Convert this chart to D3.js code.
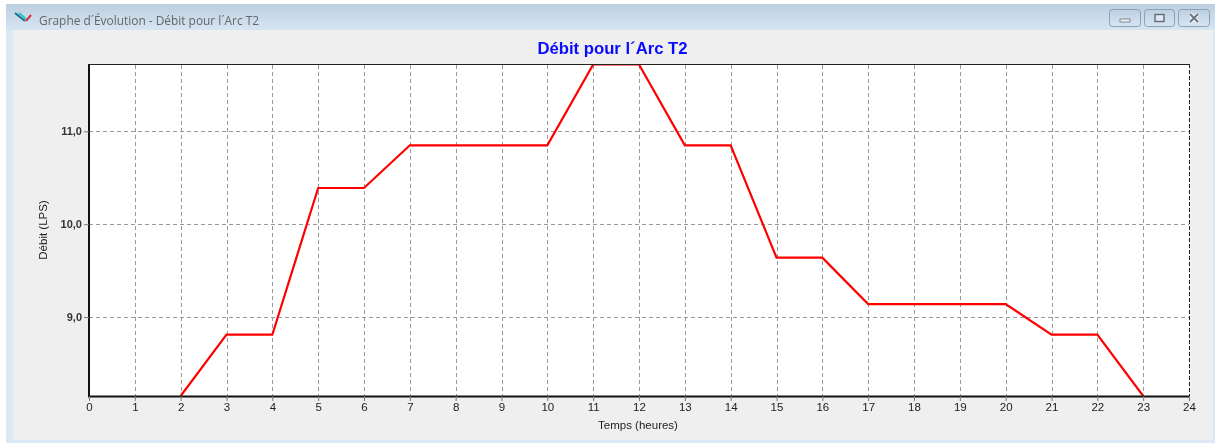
<!DOCTYPE html>
<html><head><meta charset="utf-8">
<script src="https://cdn.jsdelivr.net/npm/d3@7"></script>
<style>html,body{margin:0;padding:0;background:#fff;overflow:hidden}svg{display:block;filter:blur(0.35px)}text{font-family:"Liberation Sans",Arial,sans-serif}</style>
</head><body><svg id="c" width="1221" height="444"></svg>
<script>
const hours=[2,3,4,5,6,7,8,9,10,11,12,13,14,15,16,17,18,19,20,21,22,23];
const flow=[8.15,8.81,8.81,10.39,10.39,10.85,10.85,10.85,10.85,11.72,11.72,10.85,10.85,9.64,9.64,9.14,9.14,9.14,9.14,8.81,8.81,8.15];
const xTicks=d3.range(0,25);
const yTicks=[9,10,11];
const windowTitle="Graphe d\u00B4\u00C9volution - D\u00E9bit pour l\u00B4Arc T2";
const chartTitle="D\u00E9bit pour l\u00B4Arc T2";
const xLabel="Temps (heures)", yLabel="D\u00E9bit (LPS)";

const svg=d3.select("#c");
const defs=svg.append("defs");
const g=defs.append("linearGradient").attr("id","tb").attr("x1",0).attr("x2",0).attr("y1",0).attr("y2",1);
g.append("stop").attr("offset",0).attr("stop-color","#bccfe0");
g.append("stop").attr("offset",1).attr("stop-color","#d7e5f3");
defs.append("clipPath").attr("id","plot").append("rect").attr("x",89).attr("y",65).attr("width",1100).attr("height",331);

svg.append("rect").attr("x",6).attr("y",4).attr("width",1209).attr("height",439).attr("fill","#dce8f4");
svg.append("rect").attr("x",6).attr("y",4).attr("width",1209).attr("height",26).attr("fill","url(#tb)");
svg.append("rect").attr("x",13).attr("y",30).attr("width",1200).attr("height",410).attr("fill","#efefef");

const ic=svg.append("g").attr("fill","none").attr("stroke-width",2);
ic.append("path").attr("d","M15 13L25 21").attr("stroke","#1d6f86");
ic.append("path").attr("d","M19 13L26 19").attr("stroke","#29c4d6");
ic.append("path").attr("d","M26 21L31 15").attr("stroke","#d8323a");
svg.append("text").attr("x",39).attr("y",25).attr("font-size",11.9).attr("fill","#666")
  .style("font-family","'Open Sans',sans-serif").text(windowTitle);

[[1110,32],[1145,31],[1179,32]].forEach(([bx,w],i)=>{
  svg.append("rect").attr("x",bx-.5).attr("y",9.5).attr("width",w-1).attr("height",17).attr("rx",3)
    .attr("fill","url(#tb)").attr("stroke","#8aa0b5");
  const cx=bx+(w-1)/2-.5;
  if(i===0) svg.append("rect").attr("x",cx-5).attr("y",19).attr("width",10).attr("height",3).attr("fill","#eef2f6").attr("stroke","#66727e").attr("stroke-width",.8);
  if(i===1) svg.append("rect").attr("x",cx-4.5).attr("y",14.5).attr("width",9).attr("height",7).attr("fill","#dfe8f0").attr("stroke","#5f6c78").attr("stroke-width",1.4);
  if(i===2){
    const d=`M${cx-4} 14L${cx+4} 22M${cx+4} 14L${cx-4} 22`;
    svg.append("path").attr("d",d).attr("stroke","#f2f5f8").attr("stroke-width",4).attr("fill","none");
    svg.append("path").attr("d",d).attr("stroke","#6b7680").attr("stroke-width",2).attr("fill","none");
  }
});

const x=d3.scaleLinear().domain([0,24]).range([89,1189]);
const y=d3.scaleLinear().domain([8.15,11.72]).range([396,64.5]);

svg.append("rect").attr("x",89).attr("y",64.5).attr("width",1100).attr("height",331.5).attr("fill","#fff");

svg.append("g").selectAll("line").data(xTicks.filter(d=>d>0&&d<24)).join("line")
  .attr("x1",d=>Math.round(x(d))+.5).attr("x2",d=>Math.round(x(d))+.5).attr("y1",65).attr("y2",396)
  .attr("stroke","#999").attr("stroke-dasharray","4 3");
svg.append("g").selectAll("line").data(yTicks).join("line")
  .attr("x1",89).attr("x2",1189).attr("y1",d=>Math.round(y(d))+.5).attr("y2",d=>Math.round(y(d))+.5)
  .attr("stroke","#999").attr("stroke-dasharray","4 3");

svg.append("line").attr("x1",1189.5).attr("x2",1189.5).attr("y1",64).attr("y2",396)
  .attr("stroke","#222").attr("stroke-dasharray","4 2");

svg.append("path").datum(hours.map((h,i)=>[h,flow[i]]))
  .attr("clip-path","url(#plot)")
  .attr("fill","none").attr("stroke","#ff0000").attr("stroke-width",2.2)
  .attr("d",d3.line().x(d=>x(d[0])).y(d=>y(d[1])));

svg.append("line").attr("x1",88).attr("x2",1190).attr("y1",64.5).attr("y2",64.5).attr("stroke","#222");
svg.append("line").attr("x1",89).attr("x2",89).attr("y1",64).attr("y2",397).attr("stroke","#111").attr("stroke-width",2);

const xa=svg.append("g").attr("transform","translate(0,396)").call(d3.axisBottom(x).tickValues(xTicks).tickSize(5).tickPadding(2).tickFormat(d3.format("d")));
xa.select(".domain").attr("stroke","#111").attr("stroke-width",2).attr("d","M88,0.5H1190");
xa.selectAll(".tick line").attr("stroke","#777");
xa.selectAll("text").attr("font-size",11.5).attr("fill","#222").style("font-family","'Liberation Sans',sans-serif");

const ya=svg.append("g").attr("transform","translate(89,0)").call(d3.axisLeft(y).tickValues(yTicks).tickSize(5).tickPadding(2).tickFormat(d=>d.toFixed(1).replace(".",",")));
ya.select(".domain").remove();
ya.selectAll(".tick line").attr("stroke","#777");
ya.selectAll("text").attr("font-size",11).attr("font-weight","700").attr("fill","#333").style("font-family","'Liberation Sans',sans-serif");

svg.append("text").attr("x",612.5).attr("y",54).attr("text-anchor","middle").attr("font-size",16.7).attr("font-weight","700").attr("fill","#0a0aff").text(chartTitle);
svg.append("text").attr("x",638).attr("y",428.5).attr("text-anchor","middle").attr("font-size",11.5).attr("fill","#222").text(xLabel);
svg.append("text").attr("transform","translate(47,230) rotate(-90)").attr("text-anchor","middle").attr("font-size",11.5).attr("fill","#222").text(yLabel);
</script></body></html>
